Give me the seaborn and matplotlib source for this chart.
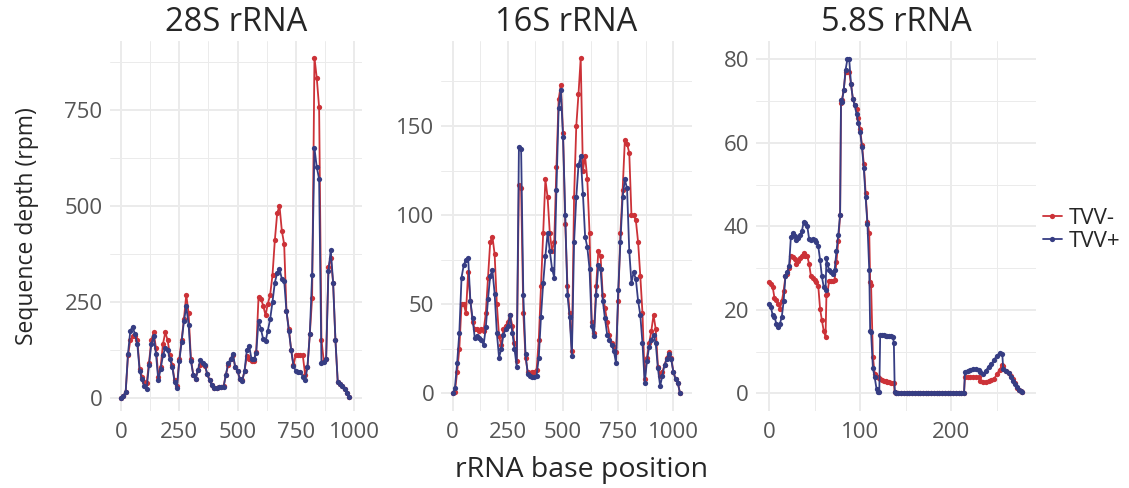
import matplotlib
matplotlib.use("Agg")
import matplotlib.pyplot as plt
from matplotlib.lines import Line2D
from matplotlib.ticker import MultipleLocator
import numpy as np
import pandas as pd
import seaborn as sns

# ---------------- data: rRNA coverage (reads per million) ----------------
groups = ["TVV-", "TVV+"]
colors = {"TVV-": "#CC3238", "TVV+": "#363D83"}

pos_28s = list(range(0, 990, 10))
tvv_minus_28s = [
    0, 5, 15, 110, 150, 160, 160, 150, 75, 55,
    40, 38, 90, 150, 170, 130, 55, 80, 140, 170,
    150, 110, 85, 45, 30, 100, 150, 205, 268, 220,
    100, 60, 50, 72, 85, 88, 82, 62, 45, 32,
    24, 26, 28, 28, 30, 60, 85, 100, 110, 80,
    70, 48, 45, 70, 108, 100, 95, 95, 120, 262,
    258, 240, 215, 245, 268, 320, 410, 480, 500, 435,
    400, 225, 180, 125, 85, 112, 112, 112, 110, 60,
    80, 165, 260, 886, 832, 756, 151, 95, 100, 340,
    365, 300, 150, 40, 35, 30, 22, 12, 3,
]
tvv_plus_28s = [
    0, 5, 15, 115, 175, 185, 165, 140, 70, 48,
    30, 22, 85, 140, 160, 115, 45, 75, 110, 130,
    125, 100, 80, 40, 25, 95, 145, 200, 238, 190,
    95, 60, 48, 72, 98, 90, 85, 62, 45, 32,
    24, 26, 28, 27, 28, 60, 90, 100, 115, 80,
    70, 48, 43, 70, 125, 135, 100, 100, 117, 200,
    180, 152, 147, 175, 205, 250, 300, 325, 335, 310,
    305, 225, 175, 125, 82, 70, 68, 68, 55, 45,
    80, 165, 320, 650, 600, 570, 90, 92, 100, 330,
    385, 300, 150, 40, 35, 30, 22, 12, 3,
]

pos_16s = list(range(0, 1040, 10))
tvv_minus_16s = [
    0, 1, 12, 25, 50, 50, 45, 68, 52, 40,
    36, 36, 35, 36, 35, 45, 65, 85, 88, 78,
    50, 32, 27, 36, 38, 40, 44, 38, 28, 18,
    117, 115, 45, 20, 12, 11, 12, 12, 13, 30,
    60, 90, 120, 110, 90, 80, 85, 127, 165, 173,
    146, 95, 60, 45, 24, 110, 150, 168, 188, 125,
    133, 120, 90, 40, 34, 60, 80, 77, 55, 48,
    40, 33, 28, 26, 23, 52, 90, 114, 142, 140,
    135, 100, 100, 97, 85, 66, 45, 8, 20, 28,
    35, 44, 36, 15, 10, 12, 16, 20, 23, 20,
    12, 8, 6, 0,
]
tvv_plus_16s = [
    0, 3, 17, 34, 65, 72, 75, 76, 52, 42,
    31, 32, 31, 30, 27, 37, 53, 66, 69, 56,
    34, 20, 25, 33, 36, 38, 44, 34, 25, 15,
    138, 137, 55, 22, 11, 10, 9, 9, 10, 20,
    43, 62, 77, 90, 80, 70, 65, 114, 160, 170,
    144, 100, 55, 43, 21, 85, 110, 128, 133, 112,
    88, 82, 70, 38, 32, 55, 72, 70, 52, 42,
    33, 30, 27, 24, 17, 58, 85, 110, 120, 115,
    80, 62, 68, 64, 52, 44, 28, 6, 18, 26,
    30, 33, 28, 14, 4, 10, 16, 19, 22, 19,
    12, 8, 6, 0,
]

pos_58s = (
    list(range(0, 63, 2)) + [63, 64] + list(range(66, 79, 2)) + [79, 80]
    + list(range(82, 111, 2)) + [111, 112] + [114, 116, 118, 120] + [121, 122]
    + list(range(124, 137, 2)) + [137, 138, 139] + list(range(142, 212, 3))
    + [214, 215] + [218, 221, 224, 227, 230]
    + [232, 235, 238, 241, 244, 247, 250, 253, 256]
    + [257, 260, 263, 266] + [268, 270, 272, 274, 276, 278]
)
tvv_minus_58s = (
    [26.7, 26.3, 25.5, 22.8, 22.3, 21.5, 20.3, 22.0, 24.5, 28.0, 28.5, 30.0,
     33.0, 32.7, 32.2, 31.0, 31.8, 32.3, 33.0, 33.5, 33.0, 32.8, 31.0, 28.0,
     27.6, 27.2, 26.6, 25.8, 20.3, 17.5, 15.0, 13.5]
    + [23.5, 23.9]
    + [27.0, 27.0, 27.0, 27.2, 31.5, 36.5, 42.7]
    + [69.5, 70.3]
    + [72.7, 77.0, 77.0, 77.0, 74.0, 70.6, 69.0, 68.0, 66.0, 63.2, 59.5, 55.0,
       48.0, 41.0, 38.3]
    + [26.7, 26.0]
    + [8.8, 4.6, 3.8, 3.8]
    + [3.6, 3.4]
    + [3.2, 3.0, 2.9, 2.8, 2.6, 2.5, 2.4]
    + [2.4, 0.3, 0.0]
    + [0.0] * 24
    + [0.0, 3.8]
    + [4.0, 4.0, 4.0, 4.0, 3.8]
    + [3.0, 2.6, 2.8, 3.0, 3.2, 3.4, 4.6, 5.6, 6.8]
    + [6.6, 5.4, 4.8, 4.2]
    + [3.5, 2.5, 1.2, 0.7, 0.5, 0.2]
)
tvv_plus_58s = (
    [21.5, 20.7, 18.7, 18.3, 16.7, 15.9, 16.7, 18.3, 22.0, 28.0, 29.0, 30.5,
     37.5, 38.3, 37.8, 36.7, 37.2, 38.0, 38.8, 41.0, 40.7, 40.0, 37.0, 36.7,
     37.0, 36.8, 36.2, 35.3, 32.0, 28.0, 25.5, 24.7]
    + [32.3, 31.0]
    + [29.5, 29.0, 28.7, 29.5, 34.0, 38.0, 42.7]
    + [70.3, 69.8]
    + [72.7, 77.5, 80.0, 80.0, 74.0, 70.5, 69.0, 67.0, 64.7, 62.5, 59.0, 54.0,
       47.0, 40.5, 29.5]
    + [15.0, 14.6]
    + [6.0, 3.8, 1.0, 0.4]
    + [0.2, 13.9]
    + [13.9, 13.9, 13.8, 13.8, 13.8, 13.7, 13.6]
    + [12.0, 0.2, 0.0]
    + [0.0] * 24
    + [0.0, 5.0]
    + [5.4, 5.6, 5.8, 5.8, 5.7]
    + [5.0, 4.6, 5.4, 6.4, 7.0, 8.0, 9.0, 9.6, 9.5]
    + [5.8, 5.4, 4.8, 3.9]
    + [3.0, 2.2, 1.4, 0.9, 0.5, 0.2]
)

panel_titles = ["28S rRNA", "16S rRNA", "5.8S rRNA"]
x_major = [250, 250, 100]
y_major = [250, 50, 20]


def long_frame(pos, minus, plus):
    return pd.concat([
        pd.DataFrame({"pos": pos, "depth": minus, "group": "TVV-"}),
        pd.DataFrame({"pos": pos, "depth": plus, "group": "TVV+"}),
    ], ignore_index=True)


frames = [
    long_frame(pos_28s, tvv_minus_28s, tvv_plus_28s),
    long_frame(pos_16s, tvv_minus_16s, tvv_plus_16s),
    long_frame(pos_58s, tvv_minus_58s, tvv_plus_58s),
]

# ---------------- figure ----------------
sns.set_theme(style="white")
plt.rcParams["font.family"] = ["Open Sans", "DejaVu Sans"]

W, H = 1129, 488
fig = plt.figure(figsize=(W / 100, H / 100), dpi=100)
fig.patch.set_facecolor("white")

# panel boxes in pixels: left, right, top, bottom
boxes = [(109.5, 362, 41, 411), (441.3, 691.7, 41, 411), (756, 1036, 41, 411)]
xlims = [(-49.4, 1034), (-51.7, 1083), (-14.3, 293)]
ylims = [(-34.6, 929), (-9.9, 197.7), (-4.24, 84.4)]

grid_col = "#EBEBEB"
text_col = "#262626"
for i, df in enumerate(frames):
    l, r, t, b = boxes[i]
    ax = fig.add_axes([l / W, 1 - b / H, (r - l) / W, (b - t) / H])
    ax.set_facecolor("white")
    sns.lineplot(
        data=df, x="pos", y="depth", hue="group", hue_order=groups,
        palette=colors, estimator=None, errorbar=None, sort=False,
        marker="o", markersize=3.8, markeredgewidth=0, linewidth=1.3,
        legend=False, ax=ax,
    )
    ax.set_xlim(*xlims[i])
    ax.set_ylim(*ylims[i])
    ax.xaxis.set_major_locator(MultipleLocator(x_major[i]))
    ax.xaxis.set_minor_locator(MultipleLocator(x_major[i] / 2))
    ax.yaxis.set_major_locator(MultipleLocator(y_major[i]))
    ax.yaxis.set_minor_locator(MultipleLocator(y_major[i] / 2))
    ax.grid(which="major", color=grid_col, linewidth=1.4)
    ax.grid(which="minor", color=grid_col, linewidth=0.7)
    ax.set_axisbelow(True)
    for s in ax.spines.values():
        s.set_visible(False)
    ax.tick_params(which="both", length=0, labelsize=16, labelcolor="#555555")
    ax.tick_params(axis="x", pad=8)
    ax.tick_params(axis="y", pad=5)
    ax.set_xlabel("")
    ax.set_ylabel("")
    ax.text(0.5, 1 + 19 / (b - t), panel_titles[i], transform=ax.transAxes,
            ha="center", va="center", fontsize=23.5, color=text_col)

fig.text(582 / W, 1 - 470 / H, "rRNA base position", ha="center", va="center",
         fontsize=20.5, color=text_col)
fig.text(27 / W, 1 - 226 / H, "Sequence depth (rpm)", ha="center", va="center",
         rotation=90, fontsize=16.5, color=text_col)

handles = [Line2D([], [], color=colors[g], marker="o", markersize=3.8,
                  markeredgewidth=0, linewidth=1.3) for g in groups]
fig.legend(handles, groups, loc="center left",
           bbox_to_anchor=(1043 / W, 1 - 230 / H), frameon=False,
           fontsize=16, handlelength=0.85, handletextpad=0.3,
           labelspacing=0.1, borderaxespad=0, borderpad=0)

fig.savefig("out.png", dpi=100, facecolor="white")
